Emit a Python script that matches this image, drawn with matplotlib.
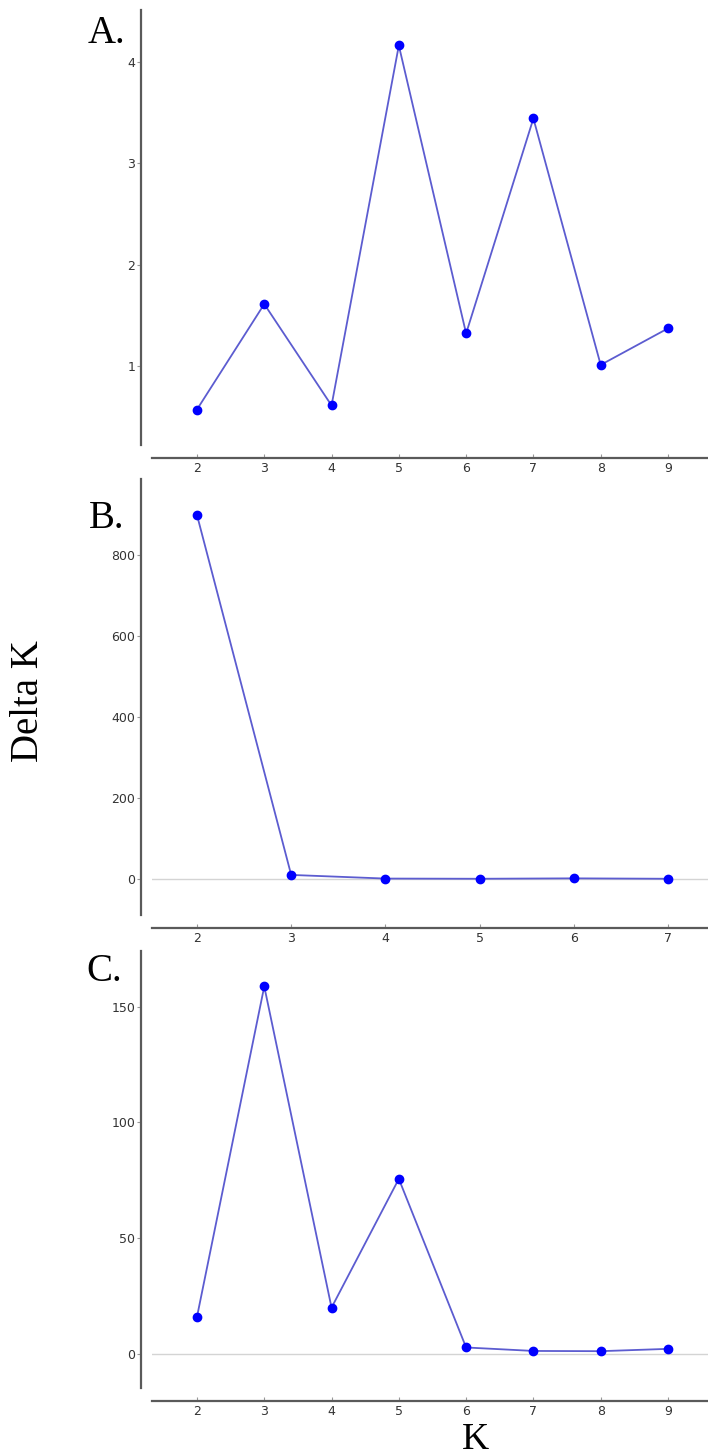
import matplotlib
matplotlib.use("Agg")
import matplotlib.pyplot as plt

# Delta K values per K for the three analyses
k_a = [2, 3, 4, 5, 6, 7, 8, 9]
delta_a = [0.57, 1.61, 0.61, 4.16, 1.32, 3.44, 1.01, 1.37]

k_b = [2, 3, 4, 5, 6, 7]
delta_b = [899, 10, 1.0, 0.5, 1.5, 0.5]

k_c = [2, 3, 4, 5, 6, 7, 8, 9]
delta_c = [16, 158.7, 20, 75.6, 2.8, 1.3, 1.2, 2.2]

panel_labels = ['A.', 'B.', 'C.']

W, H = 708, 1456
fig = plt.figure(figsize=(W / 100, H / 100), dpi=100)

serif = ['Liberation Serif', 'DejaVu Serif']
line_col = '#5c5cd0'
spine_col = '#5a5a5a'


def px_box(top, bottom, left=152, right=708):
    return [left / W, (H - bottom) / H, (right - left) / W, (bottom - top) / H]


def style(ax, ks, ylim, zero_line):
    for side in ['top', 'right']:
        ax.spines[side].set_visible(False)
    ax.spines['left'].set_position(('outward', 8))
    ax.spines['bottom'].set_position(('outward', 9.4))
    for side in ['left', 'bottom']:
        ax.spines[side].set_color(spine_col)
        ax.spines[side].set_linewidth(1.6)
    span = ks[-1] - ks[0]
    ax.set_xlim(ks[0] - 0.0955 * span, ks[-1] + 0.085 * span)
    ax.set_ylim(*ylim)
    ax.set_xticks(ks)
    ax.tick_params(axis='x', direction='in', length=3, width=0.8,
                   colors='#999999', labelcolor='#333333', labelsize=9, pad=3)
    ax.tick_params(axis='y', direction='out', length=3, width=0.8,
                   colors='#999999', labelcolor='#333333', labelsize=9, pad=1)
    if zero_line:
        ax.axhline(0, color='#d4d4d4', lw=1, zorder=0)


panels = [
    (k_a, delta_a, px_box(10, 445), (0.22, 4.51), False, [1, 2, 3, 4]),
    (k_b, delta_b, px_box(479, 915), (-89, 988), True, [0, 200, 400, 600, 800]),
    (k_c, delta_c, px_box(951, 1388), (-14.7, 174), True, [0, 50, 100, 150]),
]

for ks, vals, box, ylim, zero, yt in panels:
    ax = fig.add_axes(box)
    ax.plot(ks, vals, color=line_col, lw=1.3, zorder=2)
    ax.plot(ks, vals, 'o', color='#0000ff', ms=6, zorder=3)
    style(ax, ks, ylim, zero)
    ax.set_yticks(yt)

# panel letters
label_pos = [(88, 43), (89, 528), (86, 981)]
for lab, (x, y) in zip(panel_labels, label_pos):
    fig.text(x / W, (H - y) / H, lab, family=serif, fontsize=28, va='baseline', ha='left')

fig.text(29 / W, (H - 701) / H, 'Delta K', family=serif, fontsize=28,
         rotation=90, ha='center', va='center')
fig.text(475 / W, (H - 1449) / H, 'K', family=serif, fontsize=27,
         ha='center', va='baseline')

fig.savefig('out.png', dpi=100)
